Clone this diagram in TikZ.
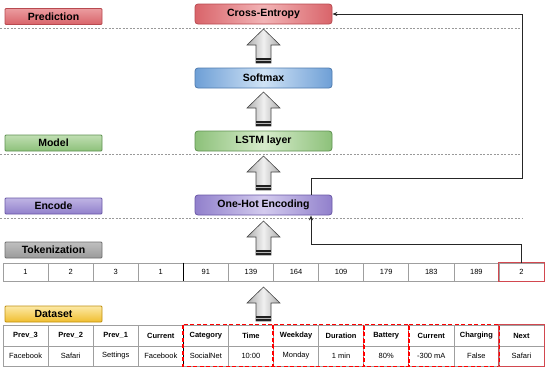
\documentclass[tikz,border=0pt]{standalone}
\usepackage{fontspec}
\setmainfont{Liberation Sans}
\usetikzlibrary{arrows.meta}
\definecolor{redD}{HTML}{D9646A}
\definecolor{redL}{HTML}{F2B4B6}
\definecolor{redB}{HTML}{B84A50}
\definecolor{bluD}{HTML}{6E9FD6}
\definecolor{bluL}{HTML}{CFE2F5}
\definecolor{bluB}{HTML}{4F7BAE}
\definecolor{grnD}{HTML}{8DC17A}
\definecolor{grnL}{HTML}{D6EBCB}
\definecolor{grnB}{HTML}{5E9150}
\definecolor{purD}{HTML}{9180CC}
\definecolor{purL}{HTML}{D3CBEE}
\definecolor{purB}{HTML}{6A58A6}
\definecolor{gryD}{HTML}{9A9A9A}
\definecolor{gryL}{HTML}{CFCFCF}
\definecolor{gryB}{HTML}{6E6E6E}
\definecolor{ylwD}{HTML}{F0BE2E}
\definecolor{ylwL}{HTML}{FCE9A6}
\definecolor{ylwB}{HTML}{C09010}
\definecolor{nextred}{HTML}{D2474F}
\begin{document}
\begin{tikzpicture}[x=1pt,y=-1pt,
  lab/.style={rounded corners=1pt, minimum width=97pt, minimum height=16pt, inner sep=0pt, line width=0.8pt, font=\bfseries\fontsize{10.5}{12}\selectfont},
  blk/.style={rounded corners=3pt, minimum width=137pt, minimum height=20pt, inner sep=0pt, line width=0.8pt, font=\bfseries\fontsize{10.5}{12}\selectfont},
  cell/.style={draw=gray!75, line width=0.6pt, minimum width=45.083pt, inner sep=0pt, font=\fontsize{7.5}{9}\selectfont},
  hcell/.style={cell, font=\bfseries\fontsize{7.5}{9}\selectfont},
  sep/.style={gray!80, dash pattern=on 2pt off 1.5pt, line width=0.5pt},
  conn/.style={draw=black!85, line width=0.9pt, -{Stealth[length=5pt,width=4pt]}},
  reddash/.style={draw=red, line width=1.4pt, dash pattern=on 4pt off 2.5pt},
  nextbox/.style={draw=nextred, line width=1.1pt}
]
\useasboundingbox (0,0) rectangle (550,370);
\newcommand{\bigup}[2]{%
  \path[left color=gray!65, right color=gray!65, middle color=gray!12, draw=gray!55!black, line width=0.6pt]
    (#1,#2) -- (#1+16.5,#2+16) -- (#1+7.5,#2+16) -- (#1+7.5,#2+34) -- (#1-7.5,#2+34) -- (#1-7.5,#2+16) -- (#1-16.5,#2+16) -- cycle;
  \fill[gray!25!black] (#1-7.5,#2+28.5) rectangle (#1+7.5,#2+34);
  \draw[gray!55, line width=0.9pt] (#1-7.5,#2+31) -- (#1+7.5,#2+31);
}
% separators
\draw[sep] (0,28) -- (522,28);
\draw[sep] (0,154) -- (522,154);
\draw[sep] (0,218) -- (522,218);
% left labels
\node[lab, draw=redB, top color=redL!70!redD, bottom color=redD] (pred) at (53.5,16.5) {Prediction};
\node[lab, draw=grnB, top color=grnL!70!grnD, bottom color=grnD] (model) at (53.5,143) {Model};
\node[lab, draw=purB, top color=purL!70!purD, bottom color=purD] (enc) at (53.5,206) {Encode};
\node[lab, draw=gryB, top color=gryL!70!gryD, bottom color=gryD] (tok) at (53.5,250) {Tokenization};
\node[lab, draw=ylwB, top color=ylwL, bottom color=ylwD] (data) at (53.5,314) {Dataset};
% pipeline boxes
\node[blk, draw=redB, left color=redD, right color=redD, middle color=redL] (ce) at (263.5,14) {Cross-Entropy};
\node[blk, draw=bluB, left color=bluD, right color=bluD, middle color=bluL] (sm) at (263.5,78) {Softmax};
\node[blk, draw=grnB, left color=grnD, right color=grnD, middle color=grnL] (lstm) at (263.5,141) {LSTM layer};
\node[blk, draw=purB, left color=purD, right color=purD, middle color=purL] (oh) at (263.5,205) {One-Hot Encoding};
% big arrows
\bigup{263.5}{29}
\bigup{263.5}{92}
\bigup{263.5}{156}
\bigup{263.5}{221}
\bigup{263.5}{287}
% token row
\foreach \v [count=\i] in {1,2,3,1,91,139,164,109,179,183,189,2}
  \node[cell, minimum height=18pt] (t\i) at ({3+45.083*(\i-0.5)},272) {\v};
\draw[black, line width=1pt] (t4.north east) -- (t4.south east);
\draw[nextbox] (t12.north west) rectangle (t12.south east);
% dataset table
\foreach \v [count=\i] in {Prev\_3,Prev\_2,Prev\_1,Current,Category,Time,Weekday,Duration,Battery,Current,Charging,Next}
  \node[hcell, minimum height=21pt] (h\i) at ({3+45.083*(\i-0.5)},335.5) {\v};
\foreach \v [count=\i] in {Facebook,Safari,Settings,Facebook,SocialNet,10:00,Monday,1 min,80\%,-300 mA,False,Safari}
  \node[cell, minimum height=20pt] (v\i) at ({3+45.083*(\i-0.5)},356) {\v};
\draw[black, line width=1pt] (h4.north east) -- (v4.south east);
\draw[reddash] (h5.north west) rectangle (v6.south east);
\draw[reddash] (h7.north west) rectangle (v8.south east);
\draw[reddash] (h9.north west) rectangle (v9.south east);
\draw[reddash] (h10.north west) rectangle (v11.south east);
\draw[nextbox] (h12.north west) rectangle (v12.south east);
% connectors
\coordinate (k1) at (311,178);
\coordinate (k2) at (522,178);
\coordinate (k3) at (311,244);
\draw[conn] (oh.north -| k1) -- (k1) -- (k2) |- (ce.east);
\draw[conn] (t12.north) |- (k3) -- (oh.south -| k3);
\end{tikzpicture}
\end{document}
